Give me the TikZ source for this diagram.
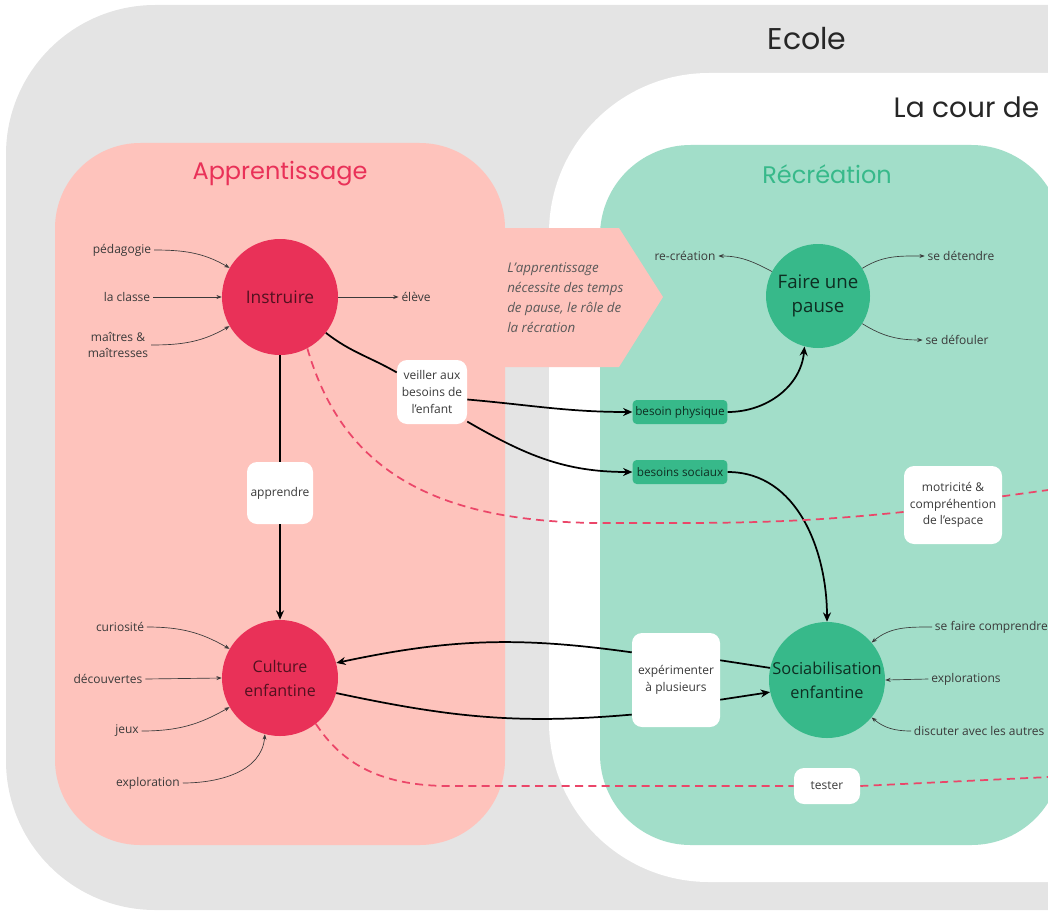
\documentclass[tikz,border=0pt]{standalone}
\usepackage{fontspec}
\setmainfont{Open Sans}
\newfontfamily\titlefont{Poppins}
\usetikzlibrary{arrows.meta, positioning}

\definecolor{ecolegray}{HTML}{E4E4E4}
\definecolor{apprpink}{HTML}{FEC3BC}
\definecolor{recrgreen}{HTML}{A2DEC9}
\definecolor{rougeco}{HTML}{E93158}
\definecolor{vertco}{HTML}{37B98A}
\definecolor{texte}{HTML}{3A3A3A}

\tikzset{
  rond/.style={circle, minimum size=#1, inner sep=0pt, align=center},
  etiquette/.style={font=\fontsize{9}{12.5}\selectfont, text=texte, inner sep=2pt, align=center},
  boite/.style={fill=white, rounded corners=7.5pt, align=center, inner sep=1pt,
    font=\fontsize{9}{12.5}\selectfont, text=texte},
  vertbox/.style={fill=vertco, rounded corners=3pt, minimum width=71pt, minimum height=18pt,
    inner sep=1pt, font=\fontsize{8.8}{12.5}\selectfont, text=vertco!25!black},
  titre/.style={font=\titlefont\fontsize{22.5}{26}\selectfont, text=black!85},
  petit/.style={-{Stealth[length=4pt,width=3pt]}, draw=texte, line width=0.5pt},
  trait/.style={line width=1.3pt, draw=black},
  gros/.style={trait, -{Stealth[length=7pt,width=6pt]}},
  pointille/.style={draw=rougeco!90, line width=1.3pt, dash pattern=on 6pt off 4pt}
}

\begin{document}
\begin{tikzpicture}[x=0.75pt, y=-0.75pt]
\useasboundingbox (0,0) rectangle (1048,913);
\clip (0,0) rectangle (1048,913);

% Zones
\fill[ecolegray, rounded corners=112pt] (6,5) rectangle (1400,910);
\fill[white, rounded corners=120pt] (549,73) rectangle (1400,882);
\fill[apprpink, rounded corners=64pt] (55,143) rectangle (505,845);
\fill[recrgreen, rounded corners=68pt] (600,145) rectangle (1062,845);
\fill[apprpink] (495,228) -- (619,228) -- (663,297) -- (619,367) -- (495,367) -- cycle;

% Titres
\node[titre] (ecole) at (807,39) {Ecole};
\node[titre, anchor=west, font=\titlefont\fontsize{21}{24}\selectfont] (cour) at (889,107) {La cour de};
\node[titre, text=rougeco, font=\titlefont\fontsize{18}{22}\selectfont] (apprentissage) at (280,174) {Apprentissage};
\node[titre, text=vertco, font=\titlefont\fontsize{18}{22}\selectfont] (recreation) at (827,174) {Récréation};

\node[anchor=west, align=left, inner sep=0pt, text=black!65,
  font=\itshape\fontsize{10}{15}\selectfont] (note) at (507,298)
  {L'apprentissage\\nécessite des temps\\de pause, le rôle de\\la récration};

% Noeuds principaux
\node[rond=87pt, fill=rougeco, text=rougeco!35!black, font=\fontsize{13}{18}\selectfont] (instruire) at (280,297) {Instruire};
\node[rond=87pt, fill=rougeco, text=rougeco!35!black, font=\fontsize{12}{18}\selectfont] (culture) at (280,678) {Culture\\enfantine};
\node[rond=78pt, fill=vertco, text=vertco!25!black, font=\fontsize{14}{18.5}\selectfont] (pause) at (818,296) {Faire une\\pause};
\node[rond=87pt, fill=vertco, text=vertco!25!black, font=\fontsize{12.3}{18}\selectfont] (socia) at (827,680) {Sociabilisation\\enfantine};

% Boites
\node[boite, minimum width=52.5pt, minimum height=48pt] (veiller) at (432,392) {veiller aux\\besoins de\\l'enfant};
\node[boite, minimum width=49.5pt, minimum height=46.5pt] (apprendre) at (280,493) {apprendre};
\node[boite, minimum width=73.5pt, minimum height=58.5pt] (motricite) at (953,505) {motricité \&\\compréhention\\de l'espace};
\node[boite, minimum width=66pt, minimum height=70.5pt] (expe) at (676,680) {expérimenter\\à plusieurs};
\node[boite, minimum width=49.5pt, minimum height=27pt] (tester) at (827,786) {tester};
\node[vertbox] (physique) at (680,412) {besoin physique};
\node[vertbox] (sociaux) at (680,472) {besoins sociaux};

% Etiquettes
\node[etiquette] (pedagogie) at (122,250) {pédagogie};
\node[etiquette] (laclasse) at (127,297) {la classe};
\node[etiquette] (maitres) at (118,345) {maîtres \&\\maîtresses};
\node[etiquette] (eleve) at (416,297) {élève};
\node[etiquette] (recre) at (685,256) {re-création};
\node[etiquette] (detendre) at (961,256) {se détendre};
\node[etiquette] (defouler) at (957,340) {se défouler};
\node[etiquette] (curiosite) at (120,627) {curiosité};
\node[etiquette] (decouvertes) at (108,679) {découvertes};
\node[etiquette] (jeux) at (127,731) {jeux};
\node[etiquette] (exploration) at (148,783) {exploration};
\node[etiquette, anchor=west] (comprendre) at (932,627) {se faire comprendre};
\node[etiquette] (explorations) at (966,679) {explorations};
\node[etiquette, anchor=west] (discuter) at (911,731) {discuter avec les autres};

% Petites fleches
\draw[petit] (pedagogie.east) to[out=0, in=150] (instruire.150);
\draw[petit] (laclasse.east) -- (instruire.west);
\draw[petit] (maitres.east) to[out=0, in=210] (instruire.210);
\draw[petit] (instruire.east) -- (eleve.west);
\draw[petit] (pause.152) to[out=152, in=0] (recre.east);
\draw[petit] (pause.32) to[out=32, in=180] (detendre.west);
\draw[petit] (pause.-32) to[out=-32, in=180] (defouler.west);
\draw[petit] (curiosite.east) to[out=0, in=150] (culture.150);
\draw[petit] (decouvertes.east) -- (culture.west);
\draw[petit] (jeux.east) to[out=0, in=210] (culture.210);
\draw[petit] (exploration.east) to[out=0, in=-95] (culture.255);
\draw[petit] (comprendre.west) to[out=180, in=40] (socia.40);
\draw[petit] (explorations.west) -- (socia.east);
\draw[petit] (discuter.west) to[out=180, in=-40] (socia.-40);

% Grosses fleches
\draw[trait] (instruire.south) -- (apprendre.north);
\draw[gros] (apprendre.south) -- (culture.north);
\draw[trait] (instruire.-38) to[out=-38, in=150] (veiller.151);
\draw[gros] (veiller.-12) to[out=-5, in=180] (physique.west);
\draw[gros] (veiller.-40) to[out=-30, in=180] (sociaux.west);
\draw[gros] (physique.east) to[out=0, in=-95] (pause.255);
\draw[gros] (sociaux.east) to[out=0, in=90] (socia.north);
\draw[trait] (socia.168) -- (expe.24);
\draw[gros] (expe.148) to[out=172, in=12] (culture.15);
\draw[trait] (culture.-15) to[out=-12, in=185] (expe.218);
\draw[gros] (expe.-24) -- (socia.192);

% Pointilles
\coordinate (finA) at (1070,487);
\coordinate (finB) at (1070,776);
\draw[pointille] (instruire.-62) .. controls (340,460) and (420,522) .. (600,523)
  to[out=0, in=186] (motricite.188);
\draw[pointille] (motricite.10) -- (finA);
\draw[pointille] (culture.-52) .. controls (340,760) and (375,786) .. (450,786) -- (tester.west);
\draw[pointille] (tester.east) -- (finB);
\end{tikzpicture}
\end{document}
